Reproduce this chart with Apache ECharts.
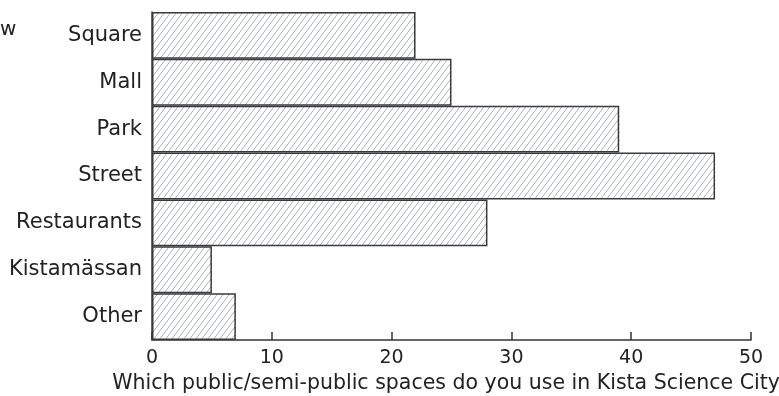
<!DOCTYPE html>
<html>
<head>
<meta charset="utf-8">
<script src="https://cdn.jsdelivr.net/npm/echarts@6/dist/echarts.min.js"></script>
<style>html,body{margin:0;padding:0;background:#fff}#c{width:779px;height:396px}</style>
</head>
<body>
<div id="c"></div>
<script>
var categories = ['Square', 'Mall', 'Park', 'Street', 'Restaurants', 'Kistamässan', 'Other'];
var values = [22, 25, 39, 47, 28, 5, 7];
var xTicks = [0, 10, 20, 30, 40, 50];
var xTitle = 'Which public/semi-public spaces do you use in Kista Science City?';

function hatch() {
  var w = 6, h = 8;
  var cv = document.createElement('canvas');
  cv.width = w; cv.height = h;
  var ctx = cv.getContext('2d');
  ctx.fillStyle = '#ffffff';
  ctx.fillRect(0, 0, w, h);
  ctx.strokeStyle = '#959eac';
  ctx.lineWidth = 0.8;
  ctx.beginPath();
  ctx.moveTo(0, h); ctx.lineTo(w, 0);
  ctx.moveTo(-w, h); ctx.lineTo(0, 0);
  ctx.moveTo(w, h); ctx.lineTo(2 * w, 0);
  ctx.stroke();
  return cv;
}

var font = 'DejaVu Sans';
var chart = echarts.init(document.getElementById('c'));
chart.setOption({
  animation: false,
  backgroundColor: '#fff',
  textStyle: { fontFamily: font },
  graphic: [{ type: 'text', left: 0, top: 20, style: { text: 'w', font: '20px ' + font, fill: '#222' } }],
  grid: { left: 152, right: 28, top: 12, bottom: 56, containLabel: false, outerBoundsMode: 'none' },
  xAxis: {
    type: 'value', min: xTicks[0], max: xTicks[xTicks.length - 1], interval: 10,
    name: xTitle, nameLocation: 'middle', nameGap: 33,
    nameTextStyle: { fontSize: 20.5, color: '#222', fontFamily: font },
    axisLine: { show: true, lineStyle: { color: '#333', width: 1.5 } },
    axisTick: { show: true, inside: true, length: 8, lineStyle: { color: '#333', width: 1.5 } },
    axisLabel: { fontSize: 19, color: '#222', margin: 9, fontFamily: font },
    splitLine: { show: false }
  },
  yAxis: {
    type: 'category', data: categories, inverse: true,
    axisLine: { show: true, lineStyle: { color: '#333', width: 1.5 } },
    axisTick: { show: true, inside: true, length: 6, alignWithLabel: true, lineStyle: { color: '#333', width: 1.2 } },
    axisLabel: { fontSize: 21, color: '#222', margin: 10, fontFamily: font }
  },
  series: [{
    type: 'bar', data: values, barCategoryGap: 0, barWidth: '100%',
    itemStyle: { color: { image: hatch(), repeat: 'repeat' }, borderColor: '#3a3a3a', borderWidth: 1.5 }
  }]
});
</script>
</body>
</html>
